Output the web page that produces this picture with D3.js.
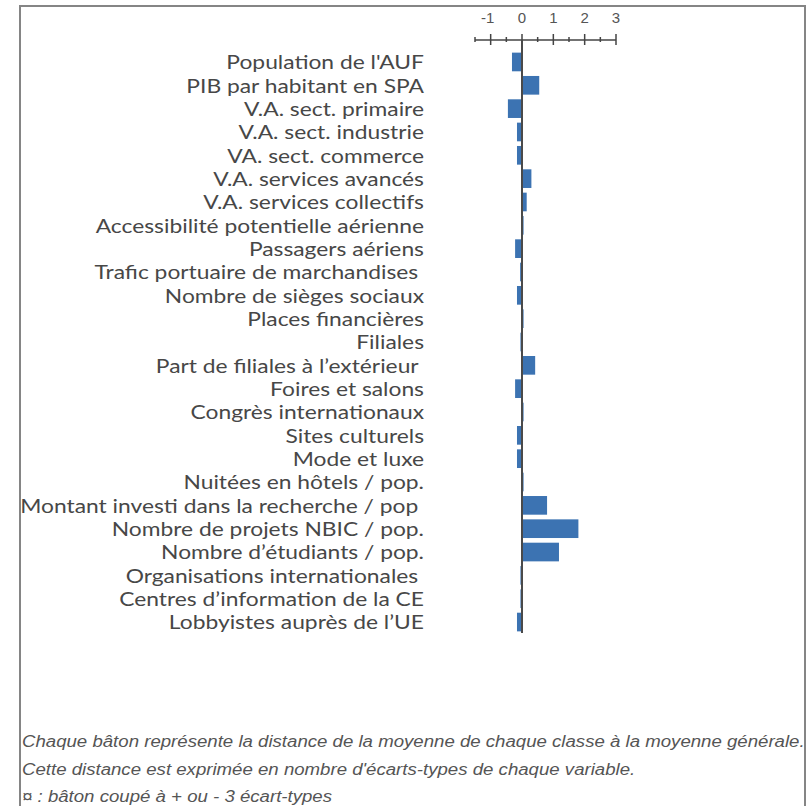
<!DOCTYPE html>
<html><head><meta charset="utf-8">
<script src="https://cdn.jsdelivr.net/npm/d3@7"></script>
<style>body{margin:0;background:#fff}svg{display:block}</style>
</head><body>
<script>
const categories = ["Population de l'AUF","PIB par habitant en SPA","V.A. sect. primaire","V.A. sect. industrie","VA. sect. commerce","V.A. services avancés","V.A. services collectifs","Accessibilité potentielle aérienne","Passagers aériens","Trafic portuaire de marchandises ","Nombre de sièges sociaux","Places financières","Filiales","Part de filiales à l’extérieur ","Foires et salons","Congrès internationaux","Sites culturels","Mode et luxe","Nuitées en hôtels / pop.","Montant investi dans la recherche / pop ","Nombre de projets NBIC / pop.","Nombre d’étudiants / pop.","Organisations internationales ","Centres d’information de la CE","Lobbyistes auprès de l’UE"];
const values = [-0.32,0.55,-0.45,-0.16,-0.16,0.3,0.15,0.05,-0.22,-0.06,-0.16,0.05,-0.05,0.42,-0.22,0.05,-0.16,-0.16,0.05,0.8,1.8,1.18,-0.05,-0.05,-0.16];
const tickValues = [-1,0,1,2,3];
const notes = ["Chaque bâton représente la distance de la moyenne de chaque classe à la moyenne générale.","Cette distance est exprimée en nombre d'écarts-types de chaque variable.","¤ : bâton coupé à + ou - 3 écart-types"];

const W=807,H=806;
const svg=d3.select("body").append("svg").attr("width",W).attr("height",H);
svg.append("rect").attr("x",20).attr("y",6).attr("width",785).attr("height",820)
  .attr("fill","none").attr("stroke","#858585").attr("stroke-width",2);

const x=d3.scaleLinear().domain([-1.5,3]).range([475,616]);
const y=d3.scaleBand().domain(categories).range([50.3,633.7]).paddingInner(0.2).paddingOuter(0.1);

// axis
const axisY=40;
const ax=svg.append("g").attr("transform",`translate(0,${axisY})`);
ax.append("line").attr("x1",x(-1.5)).attr("x2",x(3)).attr("stroke","#444").attr("stroke-width",1.5);
ax.selectAll("line.maj").data(tickValues).join("line").attr("class","maj")
  .attr("x1",d=>x(d)).attr("x2",d=>x(d)).attr("y1",-6).attr("y2",5).attr("stroke","#444").attr("stroke-width",1.5);
ax.selectAll("line.min").data([-1.5,-0.5,0.5,1.5,2.5]).join("line").attr("class","min")
  .attr("x1",d=>x(d)).attr("x2",d=>x(d)).attr("y1",-3).attr("y2",2).attr("stroke","#444").attr("stroke-width",1.5);
ax.selectAll("text").data(tickValues).join("text")
  .attr("x",d=>x(d)-(d<0?3:0)).attr("y",-17).attr("text-anchor","middle")
  .attr("font-family","Liberation Sans, Arial, sans-serif").attr("font-size",15).attr("fill","#555")
  .text(d=>d);

// bars
svg.append("g").selectAll("rect").data(categories).join("rect")
  .attr("x",(d,i)=>x(Math.min(0,values[i])))
  .attr("width",(d,i)=>Math.abs(x(values[i])-x(0)))
  .attr("y",d=>y(d)).attr("height",y.bandwidth())
  .attr("fill","#3c73b2");

// zero line
svg.append("line").attr("x1",x(0)).attr("x2",x(0)).attr("y1",axisY).attr("y2",633)
  .attr("stroke","#4a4a4a").attr("stroke-width",2);

// labels
svg.append("g").selectAll("text").data(categories).join("text")
  .attr("transform",d=>`translate(424,${y(d)+y.bandwidth()/2}) scale(1.14,1)`)
  .attr("dy","0.36em")
  .attr("text-anchor","end").style("white-space","pre")
  .attr("font-family","Lato, 'Open Sans', sans-serif").attr("font-size",20).attr("fill","#474747")
  .text(d=>d);

// notes
svg.append("g").selectAll("text").data(notes).join("text")
  .attr("transform",(d,i)=>`translate(22,${747+i*27.5}) scale(1.164,1)`)
  .attr("font-family","'Liberation Sans', Arial, sans-serif").attr("font-style","italic")
  .attr("font-size",16).attr("fill","#555")
  .text(d=>d);
</script>
</body></html>
